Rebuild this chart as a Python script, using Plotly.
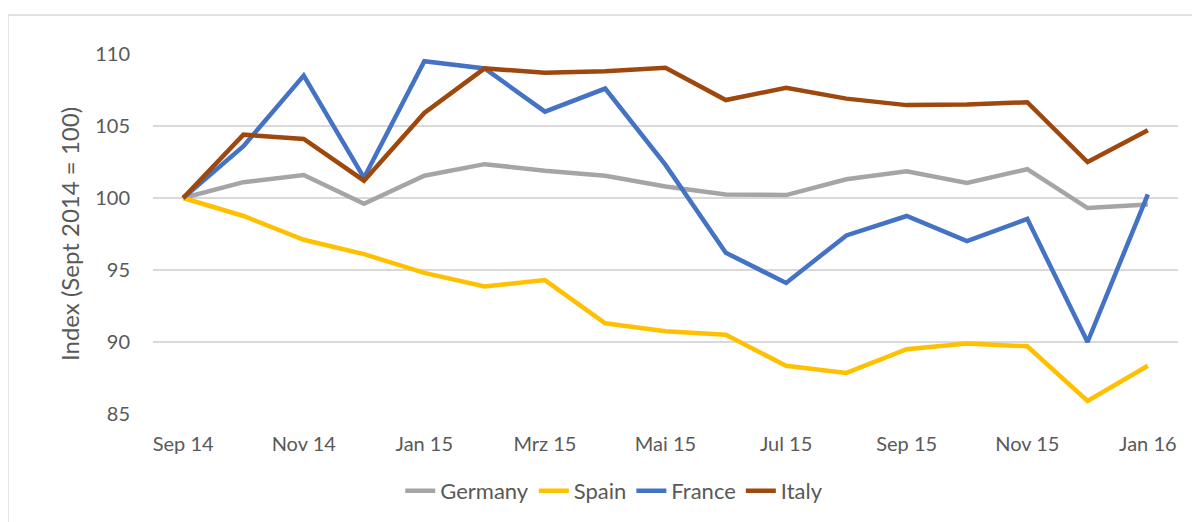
import plotly.graph_objects as go

months = ["Sep 14", "Okt 14", "Nov 14", "Dez 14", "Jan 15", "Feb 15", "Mrz 15", "Apr 15",
          "Mai 15", "Jun 15", "Jul 15", "Aug 15", "Sep 15", "Okt 15", "Nov 15", "Dez 15", "Jan 16"]
tick_labels = ["Sep 14", "Nov 14", "Jan 15", "Mrz 15", "Mai 15", "Jul 15", "Sep 15", "Nov 15", "Jan 16"]

germany = [100, 101.1, 101.6, 99.6, 101.55, 102.35, 101.9, 101.55, 100.8, 100.25, 100.2, 101.3, 101.85, 101.05, 102.0, 99.3, 99.55]
spain = [100, 98.75, 97.1, 96.1, 94.8, 93.85, 94.3, 91.3, 90.75, 90.5, 88.35, 87.85, 89.5, 89.9, 89.7, 85.9, 88.35]
france = [100, 103.6, 108.5, 101.4, 109.5, 109.0, 106.0, 107.6, 102.3, 96.2, 94.1, 97.4, 98.75, 97.0, 98.55, 90.0, 100.25]
italy = [100, 104.4, 104.1, 101.2, 105.9, 109.0, 108.7, 108.8, 109.05, 106.8, 107.65, 106.9, 106.45, 106.5, 106.65, 102.5, 104.7]

series = [("Germany", germany, "#A5A5A5"),
          ("Spain", spain, "#FFC000"),
          ("France", france, "#4472C4"),
          ("Italy", italy, "#9E480E")]

FONT = "Lato"
TXT = "#595959"

fig = go.Figure()
for name, vals, col in series:
    fig.add_trace(go.Scatter(x=months, y=vals, mode="lines", name=name,
                             line=dict(color=col, width=4.5, shape="linear"),
                             hoverinfo="x+y+name"))

fig.update_layout(
    width=1192, height=514,
    margin=dict(l=145, r=22, t=46, b=108, autoexpand=False),
    paper_bgcolor="white", plot_bgcolor="white",
    font=dict(family=FONT, size=20, color=TXT),
    showlegend=True,
    legend=dict(orientation="h", x=0.45, xanchor="center", y=-0.214, yanchor="middle",
                font=dict(family=FONT, size=22, color=TXT),
                traceorder="normal", bgcolor="rgba(0,0,0,0)"),
    xaxis=dict(type="category", categoryorder="array", categoryarray=months,
               range=[-0.5, 16.5], tickmode="array", tickvals=tick_labels, ticktext=tick_labels,
               showgrid=False, zeroline=False, showline=False,
               ticks="outside", ticklen=12, tickcolor="rgba(0,0,0,0)",
               tickfont=dict(family=FONT, size=20, color=TXT), fixedrange=True),
    yaxis=dict(range=[85, 110], tickvals=[85, 90, 95, 100, 105, 110],
               showgrid=True, gridcolor="#D9D9D9", gridwidth=1.5, zeroline=False, showline=False,
               ticks="outside", ticklen=18, tickcolor="rgba(0,0,0,0)",
               tickfont=dict(family=FONT, size=20, color=TXT),
               title=dict(text="Index (Sept 2014 = 100)", standoff=8,
                          font=dict(family=FONT, size=24, color=TXT)),
               fixedrange=True),
    shapes=[dict(type="rect", xref="paper", yref="paper",
                 x0=-0.1415, x1=1.2, y0=-0.4, y1=1.108,
                 line=dict(color="#D9D9D9", width=1.5), fillcolor="rgba(0,0,0,0)", layer="below")],
)

fig.write_html("out.html")
